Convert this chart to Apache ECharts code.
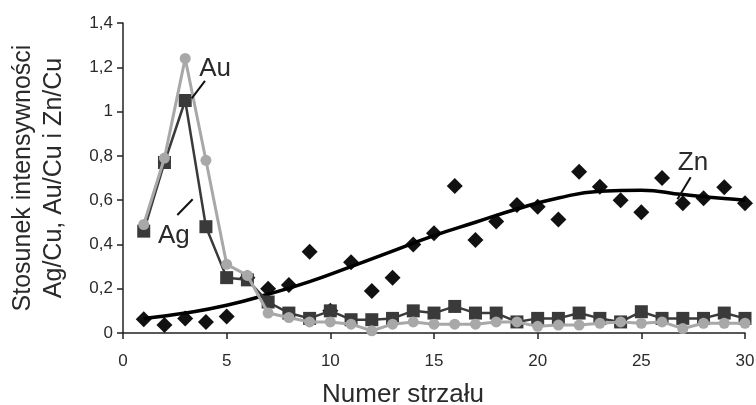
<!DOCTYPE html>
<html>
<head>
<meta charset="utf-8">
<script src="https://cdn.jsdelivr.net/npm/echarts@6/dist/echarts.min.js"></script>
<style>
html,body{margin:0;padding:0;background:#fff;}
#chart{width:756px;height:405px;}
</style>
</head>
<body>
<div id="chart"></div>
<script>
// ---- data ----
var shots = [1,2,3,4,5,6,7,8,9,10,11,12,13,14,15,16,17,18,19,20,21,22,23,24,25,26,27,28,29,30];
var agCu = [0.49,0.79,1.24,0.78,0.31,0.26,0.09,0.07,0.05,0.05,0.04,0.01,0.04,0.05,0.04,0.04,0.04,0.05,0.05,0.03,0.036,0.036,0.044,0.05,0.044,0.05,0.02,0.044,0.044,0.044];
var auCu = [0.46,0.77,1.05,0.48,0.25,0.24,0.14,0.09,0.066,0.10,0.06,0.06,0.066,0.10,0.09,0.12,0.09,0.09,0.05,0.066,0.066,0.09,0.066,0.05,0.096,0.066,0.066,0.066,0.09,0.066];
var znCu = [0.062,0.036,0.066,0.05,0.074,0.25,0.20,0.217,0.367,0.10,0.32,0.19,0.25,0.40,0.45,0.664,0.42,0.503,0.578,0.57,0.513,0.728,0.66,0.60,0.545,0.70,0.586,0.608,0.658,0.586];
var trendX = [1,3,5,7,9,11,13,15,17,19,21,23,25,27,29,30];
var trendZn = [0.065,0.09,0.125,0.175,0.232,0.30,0.37,0.44,0.50,0.56,0.61,0.64,0.645,0.625,0.607,0.60];
var xTicks = [0,5,10,15,20,25,30];
var yTicks = [0,0.2,0.4,0.6,0.8,1,1.2,1.4];
var xTitle = 'Numer strzału';
var yTitle = 'Stosunek intensywności\nAg/Cu, Au/Cu i Zn/Cu';

function pairs(xs, ys){ return xs.map(function(x,i){ return [x, ys[i]]; }); }
var FONT = '"Liberation Sans", Arial, sans-serif';
var TXT = '#2a2a2a';

var chart = echarts.init(document.getElementById('chart'), null, {renderer:'canvas'});
var option = {
  backgroundColor:'#ffffff',
  animation:false,
  grid:{left:123, right:11, top:23, bottom:72, containLabel:false, outerBoundsMode:'none'},
  xAxis:{
    type:'value', min:xTicks[0], max:xTicks[xTicks.length-1], interval:5,
    axisLine:{onZero:false, lineStyle:{color:'#222', width:1.5}},
    axisTick:{show:true, inside:false, length:6, lineStyle:{color:'#222', width:1.5}},
    splitLine:{show:false},
    axisLabel:{color:TXT, fontSize:17, fontFamily:FONT, margin:20},
    name:xTitle, nameLocation:'middle', nameGap:49,
    nameTextStyle:{color:TXT, fontSize:26, fontFamily:FONT, padding:[0,62,0,0]}
  },
  yAxis:{
    type:'value', min:yTicks[0], max:yTicks[yTicks.length-1], interval:0.2,
    axisLine:{show:true, lineStyle:{color:'#222', width:1.5}},
    axisTick:{show:true, inside:false, length:6, lineStyle:{color:'#222', width:1.5}},
    splitLine:{show:false},
    axisLabel:{color:TXT, fontSize:17, fontFamily:FONT, margin:10,
      formatter:function(v){ return String(Math.round(v*10)/10).replace('.',','); }},
    name:yTitle, nameLocation:'middle', nameGap:53, nameRotate:90,
    nameTextStyle:{color:TXT, fontSize:25, fontFamily:FONT, lineHeight:31}
  },
  series:[
    {name:'Zn/Cu', type:'scatter', data:pairs(shots, znCu), symbol:'diamond', symbolSize:[16,16],
     itemStyle:{color:'#111', opacity:1}, z:1},
    {name:'Zn trend', type:'line', data:pairs(trendX, trendZn), smooth:0.5, showSymbol:false, symbol:'none',
     lineStyle:{color:'#000', width:3.5}, z:2},
    {name:'Au/Cu', type:'line', data:pairs(shots, auCu), symbol:'rect', symbolSize:13,
     lineStyle:{color:'#3a3a3a', width:2.5}, itemStyle:{color:'#3a3a3a', opacity:1}, z:3},
    {name:'Ag/Cu', type:'line', data:pairs(shots, agCu), symbol:'circle', symbolSize:11,
     lineStyle:{color:'#a8a8a8', width:3}, itemStyle:{color:'#a8a8a8', opacity:1}, z:4}
  ]
};
chart.setOption(option);

// annotations (data coordinates)
var notes = [
  {text:'Au', at:[4.44,1.192], from:[3.955,1.139], to:[3.314,1.06]},
  {text:'Ag', at:[2.45,0.44], from:[2.62,0.533], to:[3.36,0.604]},
  {text:'Zn', at:[27.49,0.768], from:[27.38,0.703], to:[26.74,0.604]}
];
var g = [];
notes.forEach(function(n){
  var p = chart.convertToPixel({gridIndex:0}, n.at);
  var a = chart.convertToPixel({gridIndex:0}, n.from);
  var b = chart.convertToPixel({gridIndex:0}, n.to);
  g.push({type:'text', x:p[0], y:p[1], z:10,
    style:{text:n.text, fill:TXT, font:'26px "Liberation Sans", Arial, sans-serif', align:'center', verticalAlign:'middle'}});
  g.push({type:'line', z:10, shape:{x1:a[0], y1:a[1], x2:b[0], y2:b[1]}, style:{stroke:'#111', lineWidth:2}});
});
chart.setOption({graphic:g});
</script>
</body>
</html>
